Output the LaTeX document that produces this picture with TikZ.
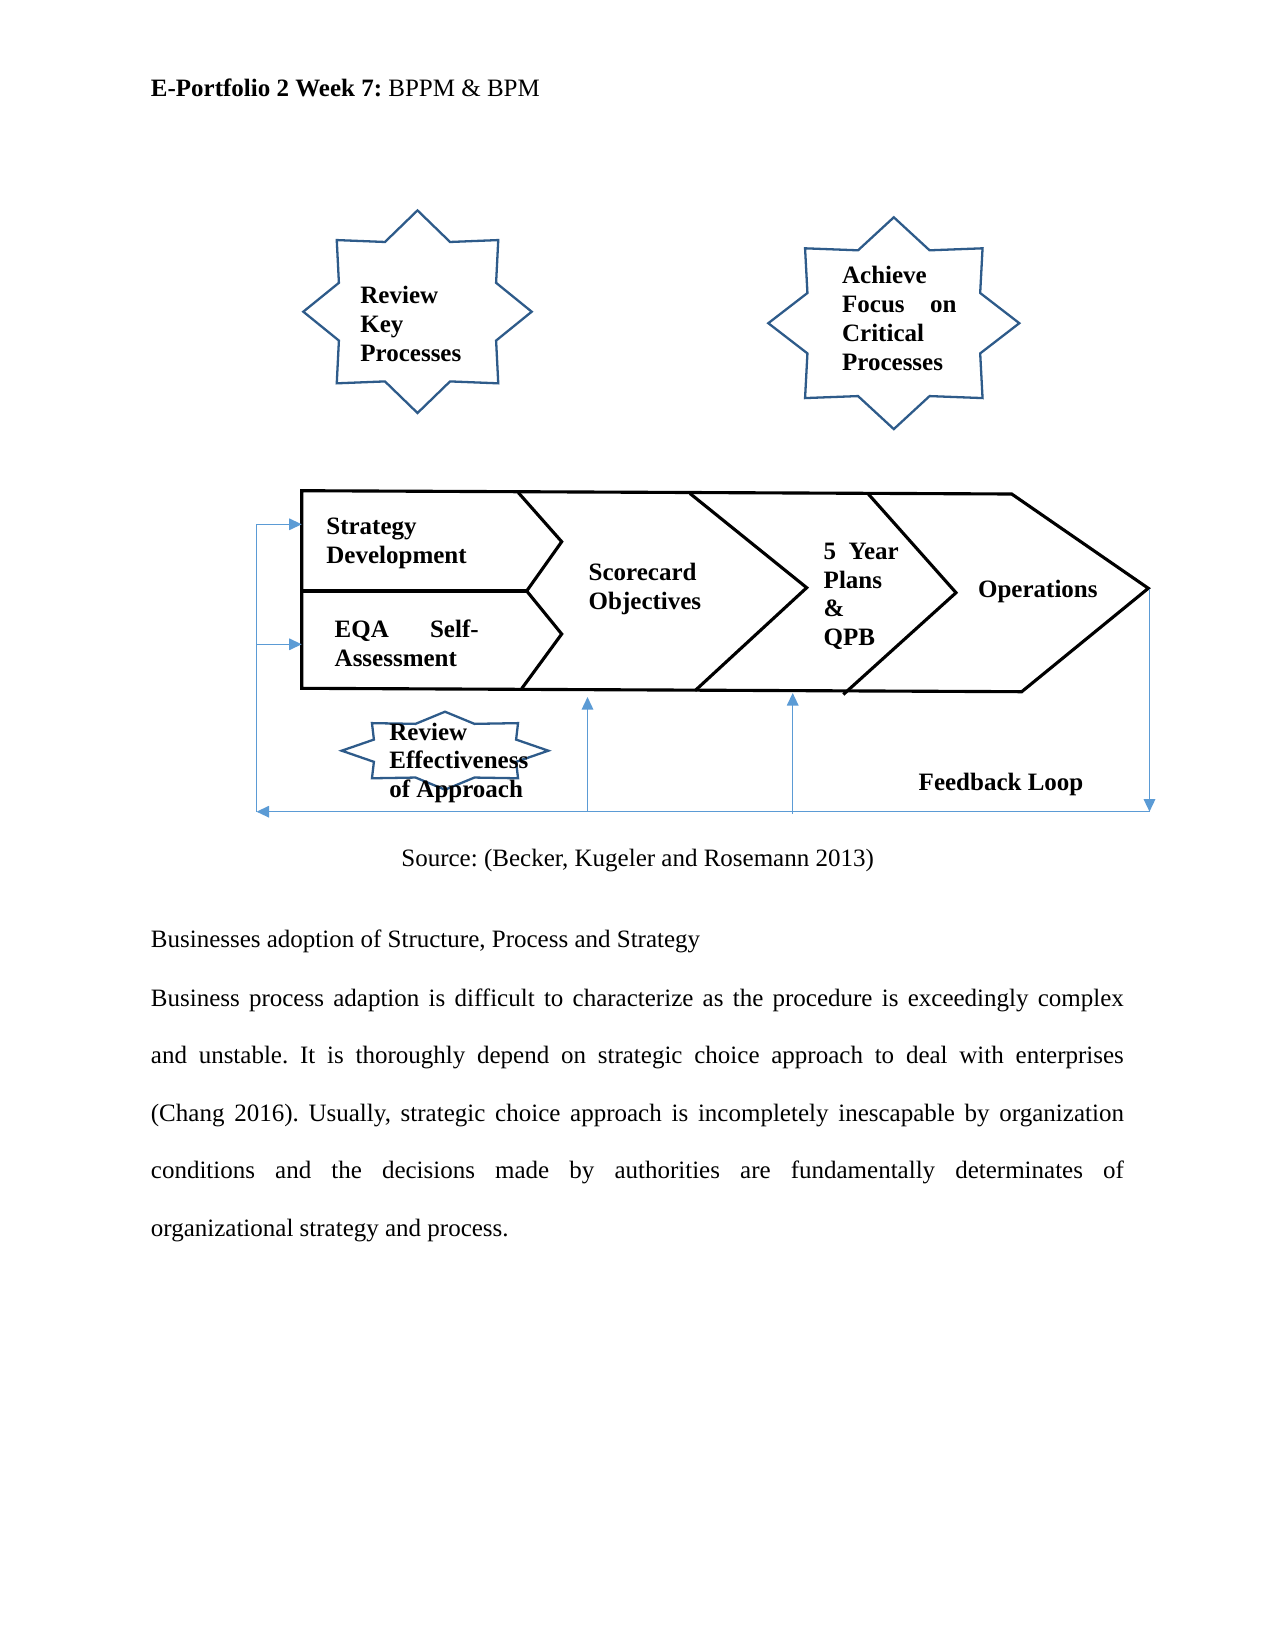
\documentclass[tikz,border=0pt]{standalone}
\usepackage{fontspec}
\setmainfont{Liberation Serif}
\usetikzlibrary{arrows.meta}
\definecolor{starblue}{HTML}{2E5B8A}
\definecolor{loopblue}{HTML}{5B9BD5}
\frenchspacing
\newcommand\mlines[1]{\begin{tabular}[t]{@{}l@{}}#1\end{tabular}}
\tikzset{
  starline/.style={draw=starblue, line width=1.1pt, line join=miter},
  eightstar/.pic={\draw[starline] (0:1) -- (22.5:0.745) -- (45:1) -- (67.5:0.745) -- (90:1) -- (112.5:0.745) -- (135:1) -- (157.5:0.745) -- (180:1) -- (202.5:0.745) -- (225:1) -- (247.5:0.745) -- (270:1) -- (292.5:0.745) -- (315:1) -- (337.5:0.745) -- cycle;}
}
\begin{document}
\begin{tikzpicture}[x=0.48pt, y=-0.48pt,
  txt/.style={inner sep=0pt, anchor=base west, font=\fontsize{12}{13.8}\selectfont},
  btxt/.style={inner sep=0pt, anchor=base west, font=\fontsize{12}{13.8}\selectfont\bfseries},
  chev/.style={line width=1.5pt, line join=miter},
  loopline/.style={draw=loopblue, line width=0.75pt},
  looparrow/.style={loopline, -{Triangle[length=6pt,width=5.5pt]}}]
\fill[white] (0,0) rectangle (1275,1651);
\useasboundingbox (0,0) rectangle (1275,1651);

% header
\node[txt] (header) at (150.5,97) {\textbf{E-Portfolio 2 Week 7:} BPPM \& BPM};

% stars
\pic[xscale=114.2, yscale=101.3] (s1) at (417.5,311.7) {eightstar};
\node[btxt] (reviewkey) at (360,304) {\mlines{Review\\Key\\Processes}};

\pic[xscale=125.5, yscale=105.9] (s2) at (893.8,323.2) {eightstar};
\node[btxt] (achieve) at (841.7,284) {\mlines{Achieve\\\makebox[54.9pt][s]{Focus on}\\Critical\\Processes}};

% chevrons
\draw[chev] (301.7,490.7) -- (1011.7,494) -- (1148.3,588.3) -- (1021.7,691.7) -- (301.7,688.3) -- cycle;
\draw[chev] (301.7,591) -- (526.7,591);
\draw[chev] (518.3,492.6) -- (561.7,541.7) -- (526.7,591) -- (561.7,634) -- (521.7,688.6);
\draw[chev] (690,493.5) -- (806.7,587.7) -- (695,690.7);
\draw[chev] (868.3,494) -- (956,592.7) -- (843.3,694.5);

\node[btxt] (strategy) at (326,534.3) {\mlines{Strategy\\Development}};
\node[btxt] (eqa) at (334.3,637.3) {\mlines{\makebox[69.1pt][s]{EQA Self-}\\Assessment}};
\node[btxt] (scorecard) at (588.3,580.7) {\mlines{Scorecard\\Objectives}};
\node[btxt] (plans) at (823.3,559.3) {\mlines{\makebox[36pt][s]{5 Year}\\Plans\\\&\\QPB}};
\node[btxt] (operations) at (977.7,597.3) {Operations};

% small star
\pic[xscale=103.3, yscale=39] (s3) at (445,750.7) {eightstar};
\node[btxt] (revieweff) at (389,740) {\mlines{Review\\Effectiveness\\of Approach}};

% feedback loop
\coordinate (opsTip) at (1149.5,589);
\coordinate (brCorner) at (1149.5,811.7);
\coordinate (blCorner) at (256.5,811.7);
\coordinate (lTop) at (256.5,524.3);
\coordinate (lMid) at (256.5,644.3);
\coordinate (stratIn) at (301.7,524.3);
\coordinate (eqaIn) at (301.7,644.3);
\coordinate (up1Base) at (587.5,811.7);
\coordinate (up1Tip) at (587.5,697);
\coordinate (up2Base) at (792.7,813.5);
\coordinate (up2Tip) at (792.7,693);

\draw[looparrow] (opsTip) -- (brCorner);
\draw[looparrow] (brCorner) -- (blCorner);
\draw[loopline] (blCorner) -- (lTop);
\draw[looparrow] (lTop) -- (stratIn);
\draw[looparrow] (lMid) -- (eqaIn);
\draw[looparrow] (up1Base) -- (up1Tip);
\draw[looparrow] (up2Base) -- (up2Tip);

\node[btxt] (feedback) at (918.3,790.7) {Feedback Loop};

% source and body
\node[txt] (source) at (401,866.5) {Source: (Becker, Kugeler and Rosemann 2013)};
\node[txt] (body1) at (150.5,947.5) {Businesses adoption of Structure, Process and Strategy};
\node[txt] (body2) at (150.5,1006.5) {\makebox[467pt][s]{Business process adaption is difficult to characterize as the procedure is exceedingly complex}};
\node[txt] (body3) at (150.5,1063.3) {\makebox[467pt][s]{and unstable. It is thoroughly depend on strategic choice approach to deal with enterprises}};
\node[txt] (body4) at (150.5,1121.2) {\makebox[467pt][s]{(Chang 2016). Usually, strategic choice approach is incompletely inescapable by organization}};
\node[txt] (body5) at (150.5,1178) {\makebox[467pt][s]{conditions and the decisions made by authorities are fundamentally determinates of}};
\node[txt] (body6) at (150.5,1236) {organizational strategy and process.};
\end{tikzpicture}
\end{document}
